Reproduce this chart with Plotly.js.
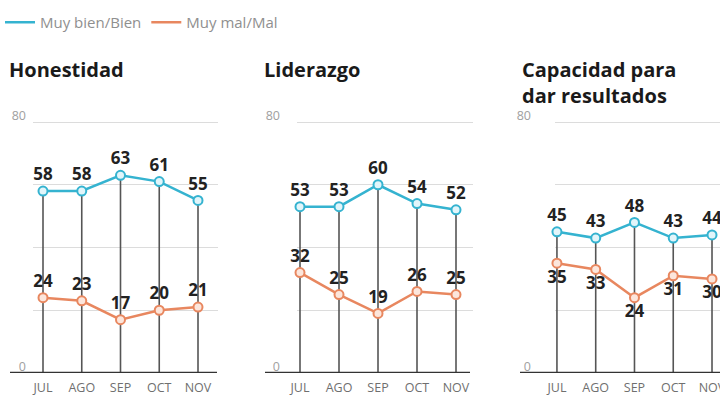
<!DOCTYPE html>
<html><head><meta charset="utf-8">
<script src="https://cdn.plot.ly/plotly-3.0.1.min.js"></script>
<style>html,body{margin:0;padding:0;background:#fff}</style></head>
<body>
<div id="chart" style="width:720px;height:403px"></div>
<script>
const months = ['JUL','AGO','SEP','OCT','NOV'];
const panelTitles = ['Honestidad','Liderazgo','Capacidad para<br>dar resultados'];
const seriesNames = ['Muy bien/Bien','Muy mal/Mal'];
const honestidadBien = [58,58,63,61,55];
const honestidadMal  = [24,23,17,20,21];
const liderazgoBien  = [53,53,60,54,52];
const liderazgoMal   = [32,25,19,26,25];
const capacidadBien  = [45,43,48,43,44];
const capacidadMal   = [35,33,24,31,30];
const yTickVals = [0,80];
const yGridVals = [20,40,60];

const BLUE = '#35b3d0', ORANGE = '#e8875f';
const W = 720, H = 403;
const panels = [
  {bien: honestidadBien, mal: honestidadMal, malPos: 'top center',
   dom: [33,218], range: [-0.258,4.516], base: [10,217], standoff: 6, tx: 7},
  {bien: liderazgoBien, mal: liderazgoMal, malPos: 'top center',
   dom: [297,473], range: [-0.077,4.436], base: [265,470], standoff: 16, tx: 262},
  {bien: capacidadBien, mal: capacidadMal, malPos: 'bottom center',
   dom: [555,720], range: [-0.05,4.206], base: [520,720], standoff: 23, tx: 520}
];
const pxPerUnit = (373 - 122) / 80;
const yTop = 84;
const yDom = [(H-373)/H, (H-(373 - yTop*pxPerUnit))/H];
const traces = [], shapes = [], annotations = [];
const layout = {
  width: W, height: H, margin: {l:0,r:0,t:0,b:0},
  paper_bgcolor: '#fff', plot_bgcolor: 'rgba(0,0,0,0)',
  font: {family: 'Open Sans, sans-serif'},
  showlegend: true,
  legend: {orientation: 'h', x: 0, y: 1 - 6/H, xanchor: 'left', yanchor: 'top',
           font: {size: 15, color: '#8f8f8f'}, itemwidth: 30, tracegroupgap: 0},
};
panels.forEach((p, k) => {
  const sx = k === 0 ? '' : String(k+1);
  const xa = 'x'+sx, ya = 'y'+sx;
  traces.push({
    x: months, y: p.bien, xaxis: xa, yaxis: ya, name: seriesNames[0],
    showlegend: false,
    mode: 'lines+markers+text', text: p.bien.map(String), textposition: 'top center',
    textfont: {family: 'Open Sans, sans-serif', size: 17, color: '#222', weight: 'bold'},
    line: {color: BLUE, width: 2.5},
    marker: {size: 9, color: '#e2f5fa', line: {color: BLUE, width: 2}},
    error_y: {type: 'data', symmetric: false, array: p.bien.map(() => 0),
              arrayminus: p.bien, width: 0, thickness: 1.6, color: '#555'},
    cliponaxis: false, hoverinfo: 'skip'
  });
  traces.push({
    x: months, y: p.mal, xaxis: xa, yaxis: ya, name: seriesNames[1],
    showlegend: false,
    mode: 'lines+markers+text', text: p.mal.map(String), textposition: p.malPos,
    textfont: {family: 'Open Sans, sans-serif', size: 17, color: '#222', weight: 'bold'},
    line: {color: ORANGE, width: 2.5},
    marker: {size: 9, color: '#fce6dc', line: {color: ORANGE, width: 2}},
    cliponaxis: false, hoverinfo: 'skip'
  });
  layout['xaxis'+sx] = {
    domain: [p.dom[0]/W, p.dom[1]/W], range: p.range, type: 'category',
    anchor: ya, showgrid: false, zeroline: false, showline: false, ticks: '',
    tickfont: {size: 12.5, color: '#6f6f6f'}, ticklabelstandoff: 5, fixedrange: true
  };
  layout['yaxis'+sx] = {
    domain: yDom, range: [0,yTop], anchor: xa,
    tickvals: yTickVals, ticktext: yTickVals.map(String),
    tickfont: {size: 12.5, color: '#a0a0a0'}, ticklabelstandoff: p.standoff,
    ticklabelshift: -6,
    showgrid: true, gridcolor: '#dcdcdc', gridwidth: 1,
    minor: {tickvals: yGridVals, showgrid: true, gridcolor: '#dcdcdc', gridwidth: 1},
    zeroline: false, showline: false, ticks: '', fixedrange: true
  };
  shapes.push({type: 'line', xref: 'paper', yref: ya, x0: p.base[0]/W, x1: p.base[1]/W,
               y0: 0, y1: 0, line: {color: '#333', width: 2.5}});
  annotations.push({text: '<b>'+panelTitles[k]+'</b>', xref: 'paper', yref: 'paper',
    x: p.tx/W, y: (H-54)/H, xanchor: 'left', yanchor: 'top', align: 'left', showarrow: false,
    font: {size: 20, color: '#1a1a1a', family: 'Open Sans, sans-serif'}});
});
// legend keys (line-only swatches, no data drawn)
[[seriesNames[0], BLUE], [seriesNames[1], ORANGE]].forEach(([n, c]) => {
  traces.push({x: [null], y: [null], mode: 'lines', name: n, line: {color: c, width: 2.5},
               showlegend: true, hoverinfo: 'skip'});
});
layout.shapes = shapes;
layout.annotations = annotations;
Plotly.newPlot('chart', traces, layout, {displayModeBar: false, staticPlot: true});
</script>
</body></html>
